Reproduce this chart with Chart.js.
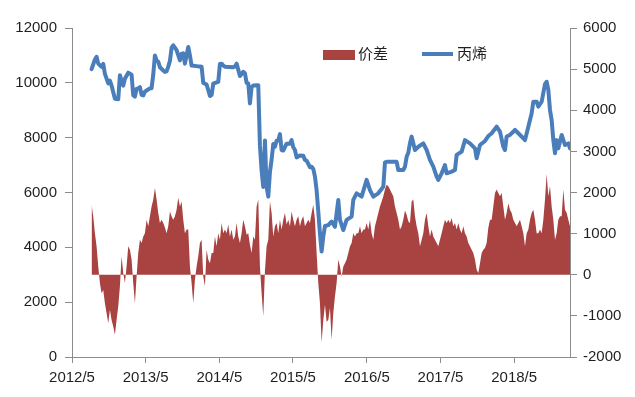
<!DOCTYPE html>
<html>
<head>
<meta charset="utf-8">
<script src="https://cdn.jsdelivr.net/npm/chart.js@4/dist/chart.umd.min.js"></script>
<style>
  html, body { margin: 0; padding: 0; background: #fff; }
  #wrap { width: 635px; height: 397px; }
</style>
</head>
<body>
<div id="wrap"><canvas id="chart" width="635" height="397"></canvas></div>
<script>
// readings start early Aug 2012, one about every 8 days
const firstDate = Date.UTC(2012, 7, 6);
const stepDays = 8.26;
const axisStart = Date.UTC(2012, 4, 1);
const yearTicks = ["2012/5", "2013/5", "2014/5", "2015/5", "2016/5", "2017/5", "2018/5"];

// 价差 (right axis)
const spread = [
  1700, 1420, 1010, 690, 200, -200, -450, -370, -690, -930,
  -1180, -850, -1100, -1260, -1460, -1100, -770, -280, 450, 40,
  -200, 200, 690, 610, 370, -200, -690, -40, 530, 850,
  770, 930, 1010, 1340, 1180, 1420, 1660, 1830, 2110, 1830,
  1500, 1260, 1340, 1260, 1150, 1010, 1180, 1540, 1420, 1340,
  1420, 1580, 1870, 1660, 1780, 1340, 1010, 1100, 1100, 200,
  -200, -690, -120, 200, 450, 770, 850, -40, -280, 610,
  370, 280, 530, 530, 930, 690, 1010, 850, 1260, 1010,
  1100, 1010, 1220, 930, 1100, 850, 930, 1260, 930, 770,
  1010, 1340, 1180, 970, 1010, 730, 530, 930, 850, 1660,
  1830, 200, -450, -1010, 100, 690, 850, 1780, 1500, 930,
  1180, 1260, 1010, 1340, 1100, 1340, 1500, 1220, 1340, 1180,
  1540, 1340, 1180, 1340, 1420, 1180, 1340, 1420, 1180, 1260,
  1340, 1260, 1500, 1700, 1340, 530, -200, -690, -1650, -1100,
  -730, -1140, -1100, -810, -1580, -930, -530, -200, 370, 200,
  -40, 200, 280, 370, 530, 690, 770, 1010, 930, 1010,
  1010, 1180, 1010, 1100, 1100, 1260, 1100, 1340, 1010, 850,
  1180, 1340, 1500, 1660, 1780, 1910, 2070, 2190, 2150, 2070,
  1990, 1910, 1660, 1500, 1340, 1100, 1180, 1340, 1560, 1460,
  1300, 1250, 1780, 1830, 1420, 1180, 1010, 690, 850, 1010,
  1340, 1500, 1180, 930, 1100, 930, 850, 770, 690, 850,
  1010, 1180, 1340, 1260, 1340, 1260, 1380, 1180, 1260, 1100,
  1260, 1100, 1010, 1180, 1010, 930, 770, 690, 610, 530,
  370, 120, 40, 280, 530, 610, 650, 770, 1140, 1340,
  1340, 1660, 1990, 2070, 1990, 1910, 1990, 1660, 1340, 1500,
  1740, 1580, 1500, 1340, 1260, 1180, 1260, 1340, 1180, 1010,
  690, 1010, 1100, 1340, 1500, 1580, 1340, 1010, 1010, 1100,
  1010, 1340, 1830, 2450, 1910, 2150, 1660, 1340, 850, 1010,
  1340, 1420, 1420, 2070, 1580, 1500, 1340, 1180
];

// 丙烯 (left axis), null where no reading
const propylene = [
  10500, null, 10850, 10950, 10700, null, 10580, 10690, 10330, 10150,
  9980, 10080, 9900, 9660, 9420, null, 9400, 10280, 10085, 9900,
  10150, null, 10370, null, 10300, 9540, 9500, 9780, 9800, 9840,
  9560, 9540, 9680, 9720, null, 9800, 9800, 10300, 11000, 10820,
  10770, 10570, null, 10450, 10400, 10420, 10590, 10800, 11280, 11370,
  null, 11190, null, 10820, 11060, 11075, 10700, null, 11310, 11000,
  10630, null, null, null, 10600, 10600, 10590, 10000, null, 9940,
  null, 9520, 9555, 9970, null, 10020, 10040, 10690, 10700, 10630,
  10590, null, null, null, null, 10570, 10590, 10700, null, 10250,
  null, 10400, 10350, 10000, 9980, 9250, 9850, 9900, null, 9910,
  9910, 7700, 6800, 6200, 7900, 6200, 5850, 6750, 7200, 7770,
  7670, 7890, 7900, 8130, 7550, 7530, null, 7780, null, 7780,
  7910, 7650, 7550, 7280, null, 7350, null, 7340, 7190, 7160,
  null, 6920, 6940, 6860, 6580, 6080, 5300, 4500, 3850, 4390,
  4780, null, 4810, 4880, 4940, null, 4750, null, 5730, 5000,
  null, 4630, null, 5000, null, null, 5120, 5730, null, 5970,
  null, null, 5850, null, null, 6460, null, 6090, null, 5850,
  null, null, 5970, null, null, 6210, 7100, 7120, null, null,
  null, null, null, 7120, 6820, 6820, null, 6820, 6940, 7300,
  7450, 7800, 8040, null, 7550, null, 7670, null, null, 7790,
  null, 7550, null, 7190, null, 6940, null, 6580, 6460, null,
  6700, null, 7000, 6700, null, null, 6760, null, 6820, 7370,
  null, null, 7490, null, 7910, null, null, 7790, null, null,
  7610, 7250, null, 7730, null, null, 7880, null, 8060, null,
  8160, null, null, 8400, null, 8220, null, 7670, 7550, 8040,
  null, 8100, null, null, 8280, null, 8160, null, null, 7980,
  7910, null, 8400, null, 8890, 9310, null, 9310, 9130, null,
  9310, null, 9950, 10040, 9740, 9010, 8640, 7910, 7430, 7910,
  7610, null, 8100, null, 7730, null, 7790, 7610
];

const DAY = 86400000;
const dates = spread.map((v, i) => firstDate + i * stepDays * DAY);
const lastDate = dates[dates.length - 1];

const red = "#A84341";
const blue = "#4A7EBB";
const axisColor = "#8C8C8C";
const textColor = "#1F1F1F";
const numFont = { family: "'Liberation Sans', Arial, sans-serif", size: 15 };

function toPoints(values){
	let pts = [];
	for(let i = 0; i < values.length; i++){
		if(values[i] !== null) pts[pts.length] = { x: dates[i], y: values[i] };
	}
	return pts;
}

function yearTickValue(label){
	let parts = label.split("/");
	return Date.UTC(parseInt(parts[0]), parseInt(parts[1]) - 1, 1);
}

// plain numbers, no thousands separator
const plain = v => String(v);

// legend drawn inside the plot, upper middle
const legendInside = {
	id: "legendInside",
	afterDraw(chart){
		let ctx = chart.ctx;
		ctx.save();
		ctx.font = "15px 'Noto Sans CJK SC', sans-serif";
		ctx.textBaseline = "middle";
		ctx.fillStyle = red;
		ctx.fillRect(323, 50, 32, 10);
		ctx.fillStyle = textColor;
		ctx.fillText(chart.data.datasets[1].label, 358, 53);
		ctx.strokeStyle = blue;
		ctx.lineWidth = 4;
		ctx.beginPath();
		ctx.moveTo(422, 54);
		ctx.lineTo(453, 54);
		ctx.stroke();
		ctx.fillText(chart.data.datasets[0].label, 457, 53);
		ctx.restore();
	}
};

let ctx = document.getElementById("chart").getContext("2d");
let chart = new Chart(ctx, {
	type: "line",
	data: {
		datasets: [
			{
				label: "丙烯",
				data: toPoints(propylene),
				yAxisID: "y",
				borderColor: blue,
				backgroundColor: blue,
				borderWidth: 4,
				borderJoinStyle: "round",
				borderCapStyle: "round",
				pointRadius: 0,
				tension: 0,
				spanGaps: true,
				fill: false,
				order: 0
			},
			{
				label: "价差",
				data: toPoints(spread),
				yAxisID: "y2",
				borderColor: red,
				backgroundColor: red,
				borderWidth: 0,
				pointRadius: 0,
				tension: 0,
				fill: "origin",
				order: 1
			}
		]
	},
	options: {
		responsive: false,
		animation: false,
		devicePixelRatio: 1,
		layout: { padding: { top: 28, left: 0, right: 0, bottom: 0 } },
		plugins: {
			legend: { display: false },
			tooltip: { enabled: false }
		},
		scales: {
			x: {
				type: "linear",
				min: axisStart,
				max: lastDate,
				afterBuildTicks: s => { s.ticks = yearTicks.map(t => ({ value: yearTickValue(t) })); },
				afterFit: s => { s.height = 40; },
				ticks: {
					color: textColor,
					font: numFont,
					padding: 6,
					maxRotation: 0,
					autoSkip: false,
					callback: (v, i) => yearTicks[i]
				},
				grid: { drawOnChartArea: false, tickLength: 6, color: axisColor },
				border: { color: axisColor, width: 1 }
			},
			y: {
				position: "left",
				min: 0,
				max: 12000,
				afterFit: s => { s.width = 72; },
				ticks: { stepSize: 2000, color: textColor, font: numFont, padding: 8, callback: plain },
				grid: { drawOnChartArea: false, tickLength: 7, color: axisColor },
				border: { color: axisColor, width: 1 }
			},
			y2: {
				position: "right",
				min: -2000,
				max: 6000,
				afterFit: s => { s.width = 65; },
				ticks: { stepSize: 1000, color: textColor, font: numFont, padding: 6, callback: plain },
				grid: { drawOnChartArea: false, tickLength: 7, color: axisColor },
				border: { color: axisColor, width: 1 }
			}
		}
	},
	plugins: [legendInside]
});
</script>
</body>
</html>
